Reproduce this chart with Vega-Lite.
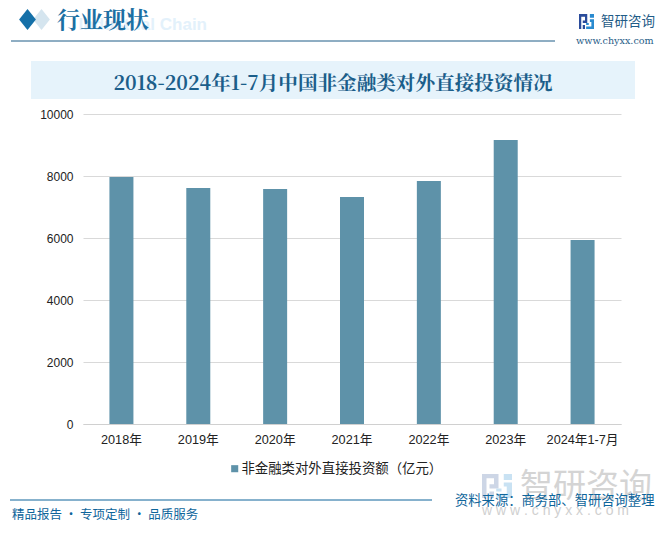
{
"$schema":"https://vega.github.io/schema/vega-lite/v6.json",
"width":538,"height":310,
"autosize":{"type":"none"},
"padding":{"left":83,"top":114,"right":48,"bottom":114},
"background":"white",
"config":{"view":{"stroke":null},"text":{"font":"Noto Sans CJK SC"}},
"title":{"text":"2018-2024年1-7月中国非金融类对外直接投资情况","font":"Noto Serif CJK SC, Noto Sans CJK SC","fontSize":19.6,"fontWeight":"bold","color":"#1B5E8A","anchor":"middle","frame":"group","dx":-19,"offset":0,"dy":95,"baseline":"middle"},
"datasets":{"bars":[
{"year":"2018年","value":7968,"series":"非金融类对外直接投资额（亿元）"},
{"year":"2019年","value":7613,"series":"非金融类对外直接投资额（亿元）"},
{"year":"2020年","value":7580,"series":"非金融类对外直接投资额（亿元）"},
{"year":"2021年","value":7323,"series":"非金融类对外直接投资额（亿元）"},
{"year":"2022年","value":7839,"series":"非金融类对外直接投资额（亿元）"},
{"year":"2023年","value":9161,"series":"非金融类对外直接投资额（亿元）"},
{"year":"2024年1-7月","value":5935,"series":"非金融类对外直接投资额（亿元）"}],
"one":[{"k":1}]},
"layer":[
{"data":{"name":"one"},"mark":{"type":"rect","x":-52,"x2":552,"y":-53,"y2":-15,"fill":"#E6F3FB","clip":false},"encoding":{}},
{"data":{"name":"one"},"mark":{"type":"text","x":124,"y":-89,"align":"right","baseline":"middle","text":"Industrial Chain","font":"Liberation Sans","fontSize":17,"fontWeight":"bold","fill":"#E3F1FB"},"encoding":{}},
{"data":{"name":"one"},"mark":{"type":"point","shape":"M-0.8,0L0,-1L0.8,0L0,1Z","x":-41.5,"y":-94.5,"size":441,"filled":true,"fill":"#D5E5EF","opacity":1},"encoding":{}},
{"data":{"name":"one"},"mark":{"type":"point","shape":"M-0.8,0L0,-1L0.8,0L0,1Z","x":-55.5,"y":-94.5,"size":441,"filled":true,"fill":"#1570A8","opacity":1},"encoding":{}},
{"data":{"name":"one"},"mark":{"type":"text","x":-26,"y":-93,"align":"left","baseline":"middle","text":"行业现状","font":"Noto Serif CJK SC, Noto Sans CJK SC","fontSize":23,"fontWeight":"bold","fill":"#1B6FA3"},"encoding":{}},
{"data":{"name":"one"},"mark":"rule","encoding":{"x":{"value":-72},"x2":{"value":472},"y":{"value":-73},"color":{"value":"#1F5C87"}}},
{"data":{"name":"one"},"mark":{"type":"point","shape":"M-1,-1H0.1V0.2H-0.5V-0.15H-0.2V-0.65H-0.7V1H-1ZM-0.5,0.45H-0.2V1H-0.5Z","x":503.5,"y":-92.5,"size":225,"filled":true,"fill":"#2B4C9B","opacity":1},"encoding":{}},
{"data":{"name":"one"},"mark":{"type":"point","shape":"M0.45,-1H1V-0.5H0.45ZM0.45,-0.3H1V1H-0.05V0.65H0.65V0.05H0.45ZM-0.05,0.2H0.3V0.45H-0.05Z","x":503.5,"y":-92.5,"size":225,"filled":true,"fill":"#2A8BD0","opacity":1},"encoding":{}},
{"data":{"name":"one"},"mark":{"type":"text","x":518,"y":-92,"align":"left","baseline":"middle","text":"智研咨询","fontSize":13.5,"fill":"#1F5C87"},"encoding":{}},
{"data":{"name":"one"},"mark":{"type":"text","x":493,"y":-73,"align":"left","baseline":"middle","text":"www.chyxx.com","font":"DejaVu Serif","fontSize":9.6,"fill":"#1F5C87"},"encoding":{}},
{"data":{"name":"one"},"mark":"rule","encoding":{"x":{"value":-73},"x2":{"value":349},"y":{"value":386},"color":{"value":"#0E659B"}}},
{"data":{"name":"one"},"mark":{"type":"text","x":-71,"y":401,"align":"left","baseline":"middle","text":"精品报告 · 专项定制 · 品质服务","fontSize":12.5,"fill":"#0E659B"},"encoding":{}},
{"data":{"name":"one"},"mark":{"type":"point","shape":"M-1,-0.8H0.1V0.16H-0.5V-0.12H-0.2V-0.52H-0.7V0.8H-1ZM-0.5,0.36H-0.2V0.8H-0.5Z","x":414,"y":372,"size":900,"filled":true,"fill":"#CDD6E6","opacity":1},"encoding":{}},
{"data":{"name":"one"},"mark":{"type":"point","shape":"M0.45,-0.8H1V-0.4H0.45ZM0.45,-0.24H1V0.8H-0.05V0.52H0.65V0.04H0.45ZM-0.05,0.16H0.3V0.36H-0.05Z","x":414,"y":372,"size":900,"filled":true,"fill":"#C9E2F3","opacity":1},"encoding":{}},
{"data":{"name":"one"},"mark":{"type":"text","x":437,"y":373,"align":"left","baseline":"middle","text":"智研咨询","fontSize":33,"fill":"#D4D4D4"},"encoding":{}},
{"data":{"name":"one"},"mark":{"type":"text","x":399,"y":397,"align":"left","baseline":"middle","text":"w  w  w  .  c  h  y  x  x  .  c  o  m","font":"Liberation Sans","fontSize":14,"fill":"#D0D0D0"},"encoding":{}},
{"data":{"name":"one"},"mark":{"type":"text","x":372,"y":387,"align":"left","baseline":"middle","text":"资料来源：商务部、智研咨询整理","fontSize":13.3,"fill":"#0E659B"},"encoding":{}},
{"data":{"name":"bars"},"mark":{"type":"bar","width":24},
"encoding":{
"x":{"field":"year","type":"nominal","sort":null,"title":null,"scale":{"paddingInner":0,"paddingOuter":0},"axis":{"labelAngle":0,"labelFont":"Liberation Sans, Noto Sans CJK SC","labelFontSize":12.7,"labelColor":"#222222","ticks":false,"domainColor":"#D0D0D0","labelPadding":9}},
"y":{"field":"value","type":"quantitative","title":null,"scale":{"domain":[0,10000],"nice":false},"axis":{"values":[0,2000,4000,6000,8000,10000],"format":"d","labelFont":"Liberation Sans","labelFontSize":12,"labelColor":"#222222","ticks":false,"domain":false,"gridColor":"#D9D9D9","labelPadding":10}},
"color":{"field":"series","type":"nominal","scale":{"range":["#5E92A9"]},"legend":{"title":null,"orient":"none","legendX":145,"legendY":348,"symbolType":"square","symbolSize":50,"labelOffset":0,"labelFont":"Noto Sans CJK SC","labelFontSize":13.4,"labelColor":"#222222","labelLimit":300}}
}}
]}
